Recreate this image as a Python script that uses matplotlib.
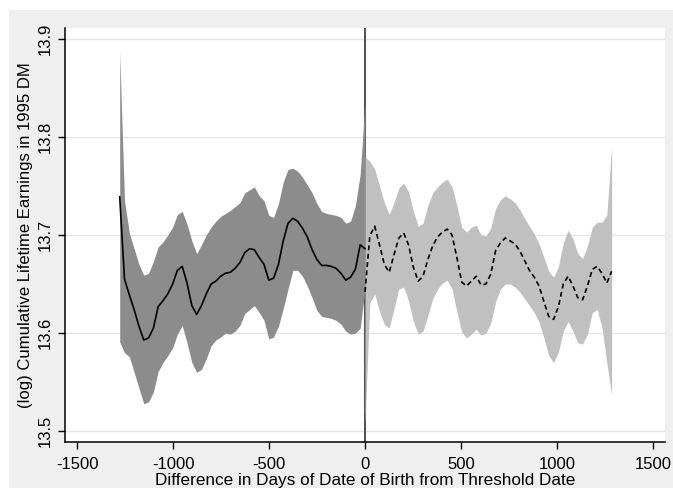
import numpy as np
import matplotlib
matplotlib.use("Agg")
import matplotlib.pyplot as plt
from matplotlib.patches import Rectangle

plt.rcParams['font.family'] = ['Liberation Sans', 'DejaVu Sans']
plt.rcParams['axes.unicode_minus'] = False

# days from threshold, before and after
days_before = np.linspace(-1278, 0, 52)
days_after = np.linspace(0, 1285, 52)

mean_before = [13.739, 13.655, 13.639, 13.624, 13.607, 13.593, 13.595, 13.605, 13.627, 13.633,
               13.640, 13.650, 13.664, 13.668, 13.651, 13.628, 13.619, 13.628, 13.640, 13.650,
               13.653, 13.658, 13.661, 13.662, 13.666, 13.672, 13.682, 13.686, 13.685, 13.677,
               13.670, 13.654, 13.656, 13.670, 13.694, 13.712, 13.717, 13.714, 13.707, 13.698,
               13.685, 13.675, 13.669, 13.669, 13.668, 13.666, 13.661, 13.654, 13.657, 13.665,
               13.690, 13.686]
upper_before = [13.886, 13.735, 13.702, 13.686, 13.670, 13.659, 13.661, 13.673, 13.688, 13.693,
                13.700, 13.708, 13.721, 13.724, 13.711, 13.694, 13.681, 13.690, 13.700, 13.708,
                13.714, 13.719, 13.722, 13.725, 13.729, 13.733, 13.743, 13.746, 13.749, 13.740,
                13.735, 13.720, 13.718, 13.732, 13.754, 13.767, 13.768, 13.765, 13.759, 13.751,
                13.743, 13.732, 13.724, 13.722, 13.721, 13.720, 13.718, 13.712, 13.714, 13.730,
                13.762, 13.835]
lower_before = [13.591, 13.580, 13.576, 13.560, 13.544, 13.528, 13.530, 13.540, 13.561, 13.570,
                13.577, 13.585, 13.599, 13.608, 13.590, 13.570, 13.560, 13.563, 13.574, 13.587,
                13.593, 13.596, 13.600, 13.599, 13.602, 13.608, 13.620, 13.624, 13.628, 13.621,
                13.613, 13.594, 13.596, 13.607, 13.625, 13.645, 13.664, 13.664, 13.658, 13.648,
                13.636, 13.623, 13.617, 13.616, 13.615, 13.613, 13.609, 13.602, 13.599, 13.600,
                13.605, 13.645]

mean_after = [13.642, 13.699, 13.709, 13.690, 13.670, 13.662, 13.680, 13.697, 13.702, 13.690,
              13.667, 13.653, 13.658, 13.675, 13.689, 13.698, 13.703, 13.706, 13.700, 13.677,
              13.652, 13.648, 13.653, 13.658, 13.649, 13.650, 13.660, 13.684, 13.692, 13.697,
              13.694, 13.691, 13.684, 13.674, 13.664, 13.657, 13.648, 13.632, 13.617, 13.614,
              13.627, 13.650, 13.658, 13.648, 13.636, 13.634, 13.648, 13.665, 13.668, 13.661,
              13.651, 13.663]
upper_after = [13.780, 13.775, 13.767, 13.750, 13.733, 13.721, 13.733, 13.748, 13.753, 13.744,
               13.724, 13.709, 13.712, 13.730, 13.743, 13.749, 13.754, 13.757, 13.749, 13.730,
               13.708, 13.703, 13.708, 13.710, 13.700, 13.699, 13.707, 13.727, 13.736, 13.740,
               13.737, 13.733, 13.726, 13.717, 13.709, 13.701, 13.691, 13.677, 13.663, 13.657,
               13.668, 13.692, 13.705, 13.696, 13.681, 13.676, 13.689, 13.708, 13.713, 13.713,
               13.720, 13.791]
lower_after = [13.508, 13.631, 13.640, 13.622, 13.609, 13.605, 13.625, 13.645, 13.647, 13.633,
               13.612, 13.599, 13.602, 13.618, 13.635, 13.645, 13.651, 13.654, 13.645, 13.622,
               13.601, 13.595, 13.599, 13.604, 13.598, 13.600, 13.610, 13.632, 13.645, 13.650,
               13.650, 13.647, 13.642, 13.635, 13.628, 13.621, 13.611, 13.595, 13.577, 13.570,
               13.581, 13.602, 13.612, 13.602, 13.590, 13.589, 13.599, 13.621, 13.624, 13.606,
               13.570, 13.537]

xticks = [-1500, -1000, -500, 0, 500, 1000, 1500]
yticks = [13.5, 13.6, 13.7, 13.8, 13.9]

fig = plt.figure(figsize=(6.73, 4.88), dpi=100, facecolor="white")
# stata-like grey outer region
fig.patches.append(Rectangle((9 / 673, 0), 1, 478 / 488, transform=fig.transFigure,
                             facecolor="#efefef", edgecolor="none", zorder=0))

ax = fig.add_axes([65 / 673, 46 / 488, 600 / 673, 414 / 488])
ax.set_zorder(2)
ax.set_facecolor("white")

ax.axvline(0, color="#555555", lw=1.5, zorder=1)
ax.fill_between(days_before, lower_before, upper_before, color="#8c8c8c", lw=0, zorder=2)
ax.fill_between(days_after, lower_after, upper_after, color="#c0c0c0", lw=0, zorder=2)
ax.plot(days_before, mean_before, color="black", lw=1.2, zorder=3)
ax.plot(days_after, mean_after, color="black", lw=1.2, ls=(0, (3, 2)), zorder=3)

ax.set_xlim(-1563, 1563)
ax.set_ylim(13.489, 13.911)
ax.set_xticks(xticks)
ax.set_yticks(yticks)
ax.set_yticklabels([f"{v:.1f}" for v in yticks], rotation=90, va="center", ha="right")
ax.yaxis.grid(True, color="#e6e6e6", lw=1)
ax.set_axisbelow(True)

for s in ["top", "right"]:
    ax.spines[s].set_visible(False)
for s in ["left", "bottom"]:
    ax.spines[s].set_linewidth(1.1)
    ax.spines[s].set_color("black")

ax.tick_params(axis="both", length=5, width=1, labelsize=12)
ax.tick_params(axis="x", pad=6)
ax.tick_params(axis="y", pad=4)
ax.set_xlabel("Difference in Days of Date of Birth from Threshold Date", fontsize=12.3, labelpad=0.5)
ax.set_ylabel("(log) Cumulative Lifetime Earnings in 1995 DM", fontsize=12, labelpad=3)

fig.savefig("out.png", dpi=100, facecolor=fig.get_facecolor())
